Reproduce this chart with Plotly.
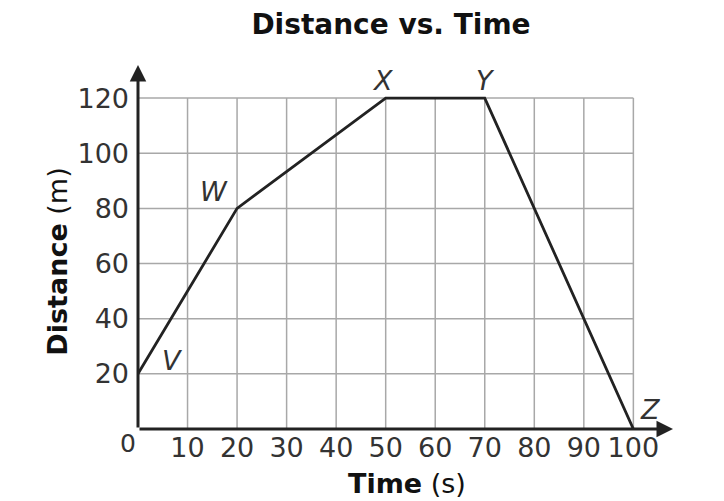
import plotly.graph_objects as go

# motion data
time_s = [0, 20, 50, 70, 100]
distance_m = [20, 80, 120, 120, 0]
point_names = ["V", "W", "X", "Y", "Z"]
# where each letter sits next to its point
label_x = [7, 15.3, 49.3, 70.2, 103.4]
label_y = [25, 86, 126.5, 126.5, 7]

x_ticks = [10, 20, 30, 40, 50, 60, 70, 80, 90, 100]
y_ticks = [20, 40, 60, 80, 100, 120]
x_max, y_max = 100, 120

FONT = "DejaVu Sans"
TXT = "#333333"

fig = go.Figure()

fig.add_trace(go.Scatter(
    x=time_s, y=distance_m, mode="lines",
    line=dict(color="#222222", width=2.8),
    hoverinfo="skip", showlegend=False,
))

# grid only inside 0..100 x 0..120
shapes = []
for xv in x_ticks:
    shapes.append(dict(type="line", xref="x", yref="y", x0=xv, x1=xv, y0=0, y1=y_max,
                       line=dict(color="#a8a8a8", width=1.5), layer="below"))
for yv in y_ticks:
    shapes.append(dict(type="line", xref="x", yref="y", x0=0, x1=x_max, y0=yv, y1=yv,
                       line=dict(color="#a8a8a8", width=1.5), layer="below"))

annotations = []
# axes with arrows
annotations.append(dict(x=108, y=0, ax=0, ay=0, xref="x", yref="y", axref="x", ayref="y",
                        showarrow=True, arrowhead=2, arrowsize=1.1, arrowwidth=3,
                        arrowcolor="#222222", text=""))
annotations.append(dict(x=0, y=132, ax=0, ay=0, xref="x", yref="y", axref="x", ayref="y",
                        showarrow=True, arrowhead=2, arrowsize=1.1, arrowwidth=3,
                        arrowcolor="#222222", text=""))

for name, lx, ly in zip(point_names, label_x, label_y):
    annotations.append(dict(x=lx, y=ly, xref="x", yref="y", text=f"<i>{name}</i>",
                            showarrow=False, font=dict(family=FONT, size=27, color=TXT)))

# texts outside the axis range go in paper coords
annotations.append(dict(x=-0.019, y=-0.04, xref="paper", yref="paper", text="0",
                        xanchor="center", yanchor="middle", showarrow=False,
                        font=dict(family=FONT, size=25, color=TXT)))
annotations.append(dict(x=0.503, y=-0.151, xref="paper", yref="paper",
                        xanchor="center", yanchor="middle",
                        text="<b>Time</b> (s)", showarrow=False,
                        font=dict(family=FONT, size=27, color="#111111")))
annotations.append(dict(x=-0.15, y=0.459, xref="paper", yref="paper", textangle=-90,
                        xanchor="center", yanchor="middle",
                        text="<b>Distance</b> (m)", showarrow=False,
                        font=dict(family=FONT, size=27, color="#111111")))

fig.update_layout(
    width=724, height=501,
    margin=dict(l=130, r=59, t=57, b=80),
    paper_bgcolor="white", plot_bgcolor="white",
    title=dict(text="<b>Distance vs. Time</b>", xref="container", yref="container",
               x=0.529, y=1, xanchor="center", yanchor="top", pad=dict(t=6),
               font=dict(family=FONT, size=28, color="#111111")),
    xaxis=dict(range=[0, 108], tickvals=x_ticks, showgrid=False, zeroline=False,
               showline=False, ticks="", tickfont=dict(family=FONT, size=27, color=TXT)),
    yaxis=dict(range=[0, 132], tickvals=y_ticks, showgrid=False, zeroline=False,
               showline=False, ticks="", ticklabelstandoff=8,
               tickfont=dict(family=FONT, size=27, color=TXT)),
    shapes=shapes, annotations=annotations,
)

fig.write_html("out.html")
